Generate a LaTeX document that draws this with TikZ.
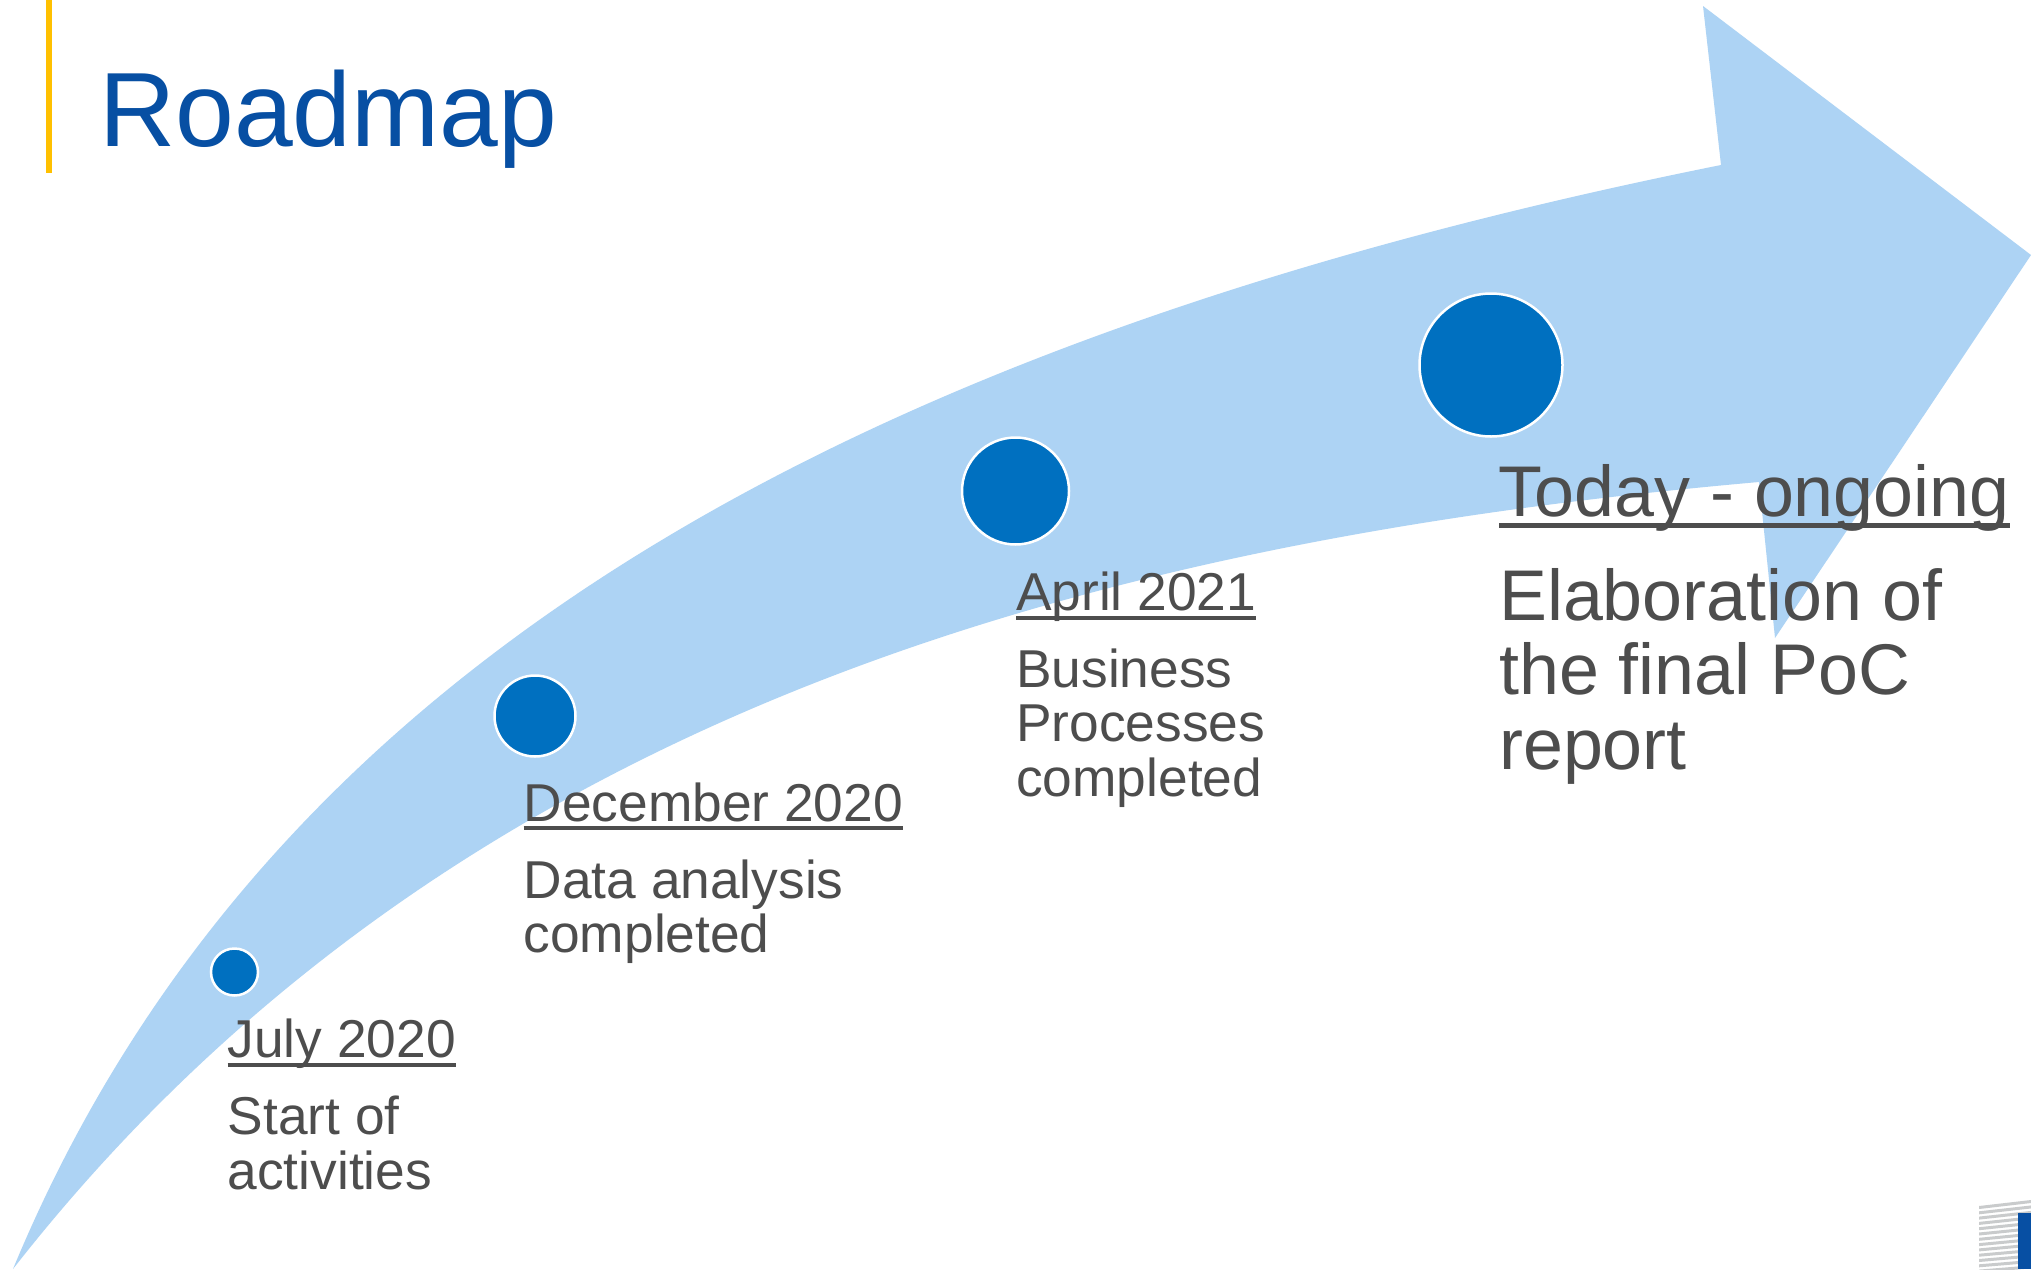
\documentclass[tikz,border=0pt]{standalone}
\usepackage{fontspec}
\setmainfont{Liberation Sans}
\definecolor{arrowblue}{HTML}{ADD3F4}
\definecolor{dotblue}{HTML}{0070C0}
\definecolor{titleblue}{HTML}{074FA3}
\definecolor{baryellow}{HTML}{FFC000}
\definecolor{bodygrey}{HTML}{4D4D4D}
\definecolor{stripegrey}{HTML}{C9CBCC}
\newcommand{\ulinetext}[1]{\setbox0\hbox{#1}\rlap{\rule[-0.17em]{\wd0}{0.07em}}\box0}
\tikzset{
  x=1pt,y=-1pt,
  dot/.style={circle,draw=white,line width=2.5pt,fill=dotblue,inner sep=0pt},
  small/.style={anchor=base west,inner sep=0pt,text=bodygrey,font=\fontsize{53.3}{55}\selectfont},
  big/.style={anchor=base west,inner sep=0pt,text=bodygrey,font=\fontsize{71.8}{75}\selectfont},
}
\begin{document}
\begin{tikzpicture}
\useasboundingbox (0,0) rectangle (2031,1269);
\fill[white] (0,0) rectangle (2031,1269);
\fill[baryellow] (46,0) rectangle (52,173);
\node[anchor=base west,inner sep=0pt,text=titleblue,font=\fontsize{105.6}{110}\selectfont] (title) at (99,146) {Roadmap};
\fill[arrowblue] (13,1269) .. controls (250,697) and (800,350) .. (1721,165)
  -- (1703,6) -- (2031,255) -- (1775,638) -- (1759,482)
  .. controls (1100,540) and (450,710) .. (13,1269) -- cycle;
\node[dot,minimum size=47pt] (d1) at (234.5,972) {};
\node[dot,minimum size=81pt] (d2) at (535,716) {};
\node[dot,minimum size=107pt] (d3) at (1015.5,491) {};
\node[dot,minimum size=143pt] (d4) at (1491,365) {};
\node[small] (t1) at (227.5,1057.5) {\ulinetext{July 2020}};
\node[small] (b1a) at (227.5,1134.5) {Start of};
\node[small] (b1b) at (227.5,1189.5) {activities};
\node[small] (t2) at (523.5,821) {\ulinetext{December 2020}};
\node[small] (b2a) at (523.5,898) {Data analysis};
\node[small] (b2b) at (523.5,952.5) {completed};
\node[small] (t3) at (1016,610.5) {\ulinetext{April 2021}};
\node[small] (b3a) at (1016,687) {Business};
\node[small] (b3b) at (1016,741.5) {Processes};
\node[small] (b3c) at (1016,796.5) {completed};
\node[big] (t4) at (1498.5,516) {\ulinetext{Today - ongoing}};
\node[big] (b4a) at (1499,620) {Elaboration of};
\node[big] (b4b) at (1499,694.5) {the final PoC};
\node[big] (b4c) at (1499,769.5) {report};
\foreach \i in {0,...,12}{
  \fill[stripegrey] (1979,1206+\i*5.3) -- (2031,1200+\i*5.45) -- (2031,1203+\i*5.45) -- (1979,1209+\i*5.3) -- cycle;
}
\fill[titleblue] (2018,1213) rectangle (2031,1269);
\end{tikzpicture}
\end{document}
